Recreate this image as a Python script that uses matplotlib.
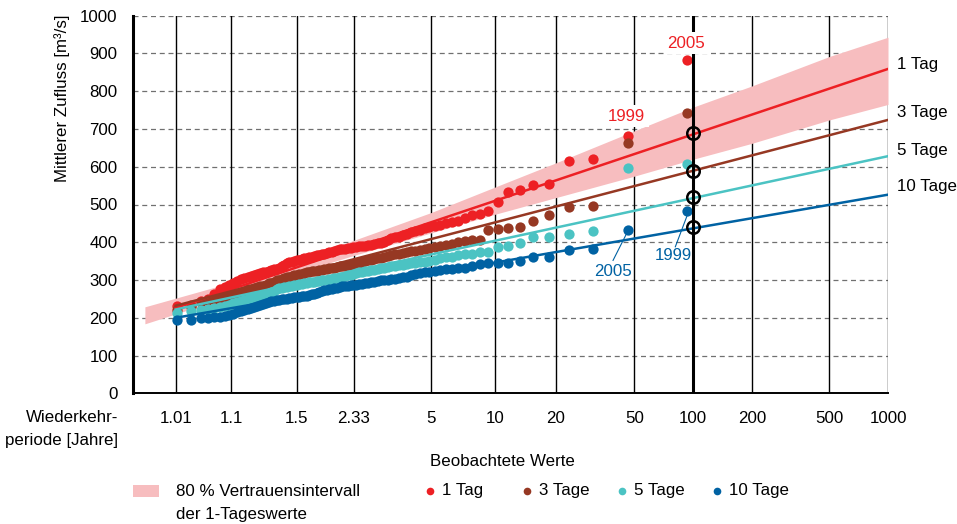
import numpy as np
import matplotlib
matplotlib.use('Agg')
import matplotlib.pyplot as plt
from matplotlib import font_manager as fm
from matplotlib.patches import Rectangle
from matplotlib.lines import Line2D

_names = {f.name for f in fm.fontManager.ttflist}
FONT = 'Liberation Sans Narrow' if 'Liberation Sans Narrow' in _names else 'Liberation Sans'
plt.rcParams['font.family'] = [FONT, 'DejaVu Sans']
FS = 12.2

# ---------------- data ----------------
series_names = ['1 Tag', '3 Tage', '5 Tage', '10 Tage']
# observed annual maxima, sorted ascending (92 years)
obs_1 = [231, 233, 245, 250, 262, 275, 282, 288, 293, 298,
         302, 306, 309, 311, 314, 316, 318, 320, 322, 324,
         326, 328, 330, 333, 336, 340, 344, 347, 349, 351,
         352, 354, 355, 357, 358, 360, 362, 363, 365, 366,
         368, 369, 371, 373, 375, 377, 379, 381, 382, 383,
         385, 386, 387, 388, 389, 390, 391, 392, 393, 395,
         397, 399, 402, 406, 410, 413, 415, 418, 422, 426,
         429, 433, 437, 441, 444, 446, 450, 453, 457, 465,
         472, 474, 482, 507, 532, 538, 552, 554, 614, 620,
         681, 884]
obs_3 = [221, 228, 243, 247, 249, 251, 255, 259, 262, 266,
         269, 272, 275, 277, 279, 281, 283, 285, 288, 291,
         293, 296, 299, 301, 303, 305, 307, 309, 311, 313,
         314, 316, 317, 319, 320, 322, 323, 324, 325, 326,
         327, 328, 330, 331, 332, 333, 335, 336, 337, 338,
         339, 341, 343, 345, 346, 348, 350, 352, 354, 356,
         357, 359, 361, 363, 366, 368, 370, 372, 374, 376,
         378, 380, 382, 384, 387, 390, 393, 396, 400, 403,
         405, 406, 432, 434, 437, 441, 457, 472, 494, 496,
         664, 742]
obs_5 = [212, 219, 221, 224, 227, 229, 232, 235, 238, 241,
         244, 247, 250, 252, 254, 256, 258, 260, 263, 266,
         269, 272, 275, 278, 279, 281, 282, 283, 284, 286,
         287, 289, 290, 291, 293, 294, 295, 296, 297, 298,
         299, 300, 301, 302, 304, 305, 306, 308, 309, 310,
         312, 314, 316, 318, 320, 322, 323, 324, 326, 327,
         329, 331, 333, 335, 337, 338, 339, 341, 342, 344,
         345, 347, 349, 351, 354, 357, 360, 362, 365, 368,
         370, 375, 375, 387, 390, 397, 413, 415, 421, 430,
         597, 606]
obs_10 = [194, 194, 199, 200, 201, 203, 205, 207, 210, 214,
          217, 220, 223, 225, 228, 231, 234, 237, 240, 243,
          244, 245, 246, 247, 249, 250, 251, 252, 253, 254,
          255, 256, 257, 258, 259, 260, 262, 264, 266, 268,
          271, 273, 274, 275, 277, 278, 280, 282, 283, 284,
          285, 286, 287, 288, 289, 290, 291, 292, 294, 295,
          297, 299, 300, 301, 302, 304, 306, 307, 309, 312,
          315, 318, 321, 322, 324, 326, 328, 330, 332, 333,
          336, 342, 344, 344, 346, 351, 360, 360, 380, 381,
          432, 483]

# fitted Gumbel lines (return period -> value)
fit_T = [1.01, 1000]
fit_1 = [226, 859]
fit_3 = [232, 724]
fit_5 = [222, 628]
fit_10 = [200, 526]
design_T = 100
design_vals = [689, 590, 519, 440]

# 80 % confidence interval of the 1-day values
band_T = [1.0013, 1.1, 1.5, 2.33, 5, 10, 20, 50, 100, 200, 500, 1000]
band_lo = [184, 257, 319, 365, 425, 474, 518, 575, 620, 662, 724, 765]
band_hi = [229, 293, 353, 405, 479, 546, 610, 695, 758, 814, 892, 943]

tick_T = [1.01, 1.1, 1.5, 2.33, 5, 10, 20, 50, 100, 200, 500, 1000]
tick_labels = ['1.01', '1.1', '1.5', '2.33', '5', '10', '20', '50', '100', '200', '500', '1000']

colors = ['#ED2024', '#963823', '#4BC3C3', '#0062A3']
band_color = '#F7BDBF'

# ---------------- Gumbel probability scale ----------------
def fwd(T):
    T = np.asarray(T, dtype=float)
    with np.errstate(all='ignore'):
        return -np.log(-np.log(1.0 - 1.0 / T))

def inv(y):
    y = np.asarray(y, dtype=float)
    with np.errstate(all='ignore'):
        return 1.0 / (1.0 - np.exp(-np.exp(-y)))

W, H = 957, 524
fig = plt.figure(figsize=(W / 100, H / 100), dpi=100)
ax = fig.add_axes([133 / W, 1 - 393.3 / H, (888 - 133) / W, (393.3 - 15.7) / H])
ax.set_xscale('function', functions=(fwd, inv))
ax.set_xlim(float(inv(-2.035)), 1000)
ax.set_ylim(0, 1000)

# grid
for v in range(100, 1001, 100):
    ax.axhline(v, color='#707070', lw=0.9, ls=(0, (4, 3)), zorder=0.5)
for t in tick_T:
    ax.axvline(t, color='black', lw=2.2 if t == 100 else 1.0, zorder=0.6 if t != 100 else 6)

# band
ax.fill_between(band_T, band_lo, band_hi, color=band_color, lw=0, zorder=1)

# observed points (Weibull plotting positions)
obs = [obs_1, obs_3, obs_5, obs_10]
for vals, c in zip(obs, colors):
    n = len(vals)
    rank = np.arange(n, 0, -1)           # ascending values -> rank n..1
    T = (n + 1) / rank
    ax.plot(T, vals, 'o', ms=7.4, color=c, mec='none', zorder=3)

# fitted lines
for f, c in zip([fit_1, fit_3, fit_5, fit_10], colors):
    ax.plot(fit_T, f, '-', color=c, lw=1.8, zorder=4)
ax.plot([design_T] * 4, design_vals, 'o', ms=9, mfc='none', mec='black', mew=1.8, zorder=7)

# annotations
bb = dict(facecolor='white', edgecolor='none', pad=2.5)
ax.text(92, 927, '2005', color=colors[0], fontsize=FS, ha='center', va='center', bbox=bb, zorder=8)
ax.text(45.7, 734, '1999', color=colors[0], fontsize=FS, ha='center', va='center', bbox=bb, zorder=8)
ax.text(39, 322, '2005', color=colors[3], fontsize=FS, ha='center', va='center', zorder=8)
ax.text(79, 366, '1999', color=colors[3], fontsize=FS, ha='center', va='center', zorder=8)
ax.plot([39, 45.7], [352, 423], color=colors[3], lw=0.8, zorder=5)
ax.plot([81, 93.3], [388, 472], color=colors[3], lw=0.8, zorder=5)

# axes styling
for s in ['top', 'right']:
    ax.spines[s].set_visible(False)
ax.spines['left'].set_linewidth(2.2)
ax.spines['bottom'].set_linewidth(1.4)
ax.spines['left'].set_zorder(6)
ax.set_yticks(range(0, 1001, 100))
ax.set_xticks(tick_T)
ax.set_xticklabels(tick_labels)
ax.xaxis.set_minor_locator(matplotlib.ticker.NullLocator())
ax.tick_params(axis='both', length=0, labelsize=FS)
ax.tick_params(axis='y', pad=11)
ax.tick_params(axis='x', pad=13)

# outer texts
fig.text(62 / W, 1 - 98 / H, 'Mittlerer Zufluss [m³/s]', rotation=90, ha='center', va='center', fontsize=FS)
fig.text(118 / W, 1 - 418 / H, 'Wiederkehr-', ha='right', va='center', fontsize=FS)
fig.text(118 / W, 1 - 440 / H, 'periode [Jahre]', ha='right', va='center', fontsize=FS)
fig.text(502 / W, 1 - 462 / H, 'Beobachtete Werte', ha='center', va='center', fontsize=FS)
for name, yy in zip(series_names, [65, 113, 150, 187]):
    fig.text(897 / W, 1 - yy / H, name, ha='left', va='center', fontsize=FS)

# legend
fig.add_artist(Rectangle((133 / W, 1 - 497 / H), 26 / W, 12 / H, transform=fig.transFigure,
                         facecolor=band_color, edgecolor='none'))
fig.text(176 / W, 1 - 491 / H, '80 % Vertrauensintervall', ha='left', va='center', fontsize=FS)
fig.text(176 / W, 1 - 514 / H, 'der 1-Tageswerte', ha='left', va='center', fontsize=FS)
for name, c, xm in zip(series_names, colors, [430, 527, 622, 717]):
    fig.add_artist(Line2D([xm / W], [1 - 491 / H], transform=fig.transFigure, marker='o',
                          ms=5.5, color=c, mec='none', ls='none'))
    fig.text((xm + 12) / W, 1 - 491 / H, name, ha='left', va='center', fontsize=FS)

fig.savefig('out.png', dpi=100)
